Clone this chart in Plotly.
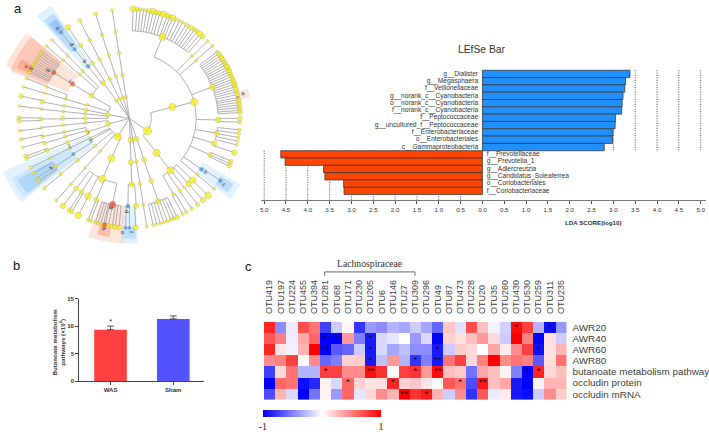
import math
import plotly.graph_objects as go

W, H = 709, 432
SANS = "Liberation Sans"
SERIF = "Liberation Serif"
GREY = "#333333"

# ---------- panel a: LEfSe bar ----------
lda_up_names = ["g__Dialister", "g__Megasphaera", "f__Veillonellaceae", "g__norank_c__Cyanobacteria",
                "o__norank_c__Cyanobacteria", "f__norank_c__Cyanobacteria", "f__Peptococcaceae",
                "g__uncultured_f__Peptococcaceae", "f__Enterobacteriaceae", "o__Enterobacteriales",
                "c__Gammaproteobacteria"]
lda_up_vals = [3.38, 3.28, 3.26, 3.22, 3.20, 3.19, 3.05, 3.04, 2.99, 2.98, 2.79]
lda_down_names = ["f__Prevotellaceae", "g__Prevotella_1", "g__Adlercreutzia", "g__Candidatus_Soleaferrea",
                  "o__Coriobacteriales", "f__Coriobacteriaceae"]
lda_down_vals = [4.62, 4.52, 3.64, 3.61, 3.18, 3.17]
lda_ticks = [-5, -4.5, -4, -3.5, -3, -2.5, -2, -1.5, -1, -0.5, 0, 0.5, 1, 1.5, 2, 2.5, 3, 3.5, 4, 4.5, 5]
lda_guides_up = [3, 3.5, 4, 4.5, 5]
lda_guides_down = [-5, -4.5, -4, -3.5, -3, -2.5, -2, -1.5, -1, -0.5]

# ---------- panel b ----------
b_groups = ["WAS", "Sham"]
b_values = [9.38, 11.35]
b_errors = [0.66, 0.55]
b_colors = ["#FF4040", "#5252FF"]
b_ticks = [0, 5, 10, 15]

# ---------- panel c ----------
otus = ["OTU419", "OTU197", "OTU224", "OTU455", "OTU394", "OTU281", "OTU68", "OTU171", "OTU230", "OTU205",
        "OTU6", "OTU146", "OTU27", "OTU309", "OTU296", "OTU49", "OTU87", "OTU473", "OTU228", "OTU20",
        "OTU35", "OTU260", "OTU430", "OTU530", "OTU259", "OTU311", "OTU235"]
traits = ["AWR20", "AWR40", "AWR60", "AWR80", "butanoate metabolism pathway", "occludin protein", "occludin mRNA"]
awr20 = [.85, -.45, -.08, .7, .55, -.75, -.2, .03, -.8, -.4, -.45, -.3, -.35, -.2, -.35, -.6, .22, -.12, .7, .25, -.05, -.18, .95, .75, -.3, -.95, -.4]
awr40 = [.65, .5, -.07, .35, .6, -1, -1, .4, -.5, -.9, -.15, -.1, 0, -.4, -.15, -1, .18, .12, .25, .4, .15, -.2, 1, .5, -1, .12, -.2]
awr60 = [.85, .1, -.05, .3, 1, -1, -.65, -.6, -.2, -.9, -.15, -.35, -.25, -.45, -.45, -.9, -.2, .2, .15, 0, .35, .08, .45, .75, -.95, .12, .3]
awr80 = [.45, .5, .75, .02, .45, -.6, -.5, .18, .2, -.9, -.25, .4, -.3, -.8, -.5, -.9, .55, .75, .15, .5, 1, .45, .55, .5, -.65, .12, .55]
butan = [-.75, .15, .55, -.3, -.3, .75, .75, .45, .45, .95, .8, .02, .75, .8, .4, .95, .25, .2, -.55, .35, .25, .05, -.5, -1, .85, .15, .25]
occ_p = [-1, .6, .55, -.95, -.85, .05, -.15, .6, .18, .1, .12, .85, .18, .22, .1, .02, .65, .55, -.7, .9, .25, .35, -.9, -1, .05, .3, .3]
occ_m = [-.7, .3, -.15, -1, -.55, .05, -.4, .6, -.1, .15, .45, .3, 1, .8, .9, .3, -.2, .45, -.8, .65, -.08, .08, -.9, -.95, -.2, .45, .2]
heat = [awr20, awr40, awr60, awr80, butan, occ_p, occ_m]
# (row, column, number of stars)
stars = [(0, 22, 1), (0, 25, 1), (1, 5, 1), (1, 6, 1), (1, 9, 1), (2, 5, 2), (2, 9, 1), (2, 15, 1), (2, 24, 1),
         (3, 9, 1), (3, 13, 1), (3, 15, 2), (4, 5, 1), (4, 9, 2), (4, 13, 1), (4, 15, 2), (4, 23, 1), (4, 24, 1),
         (5, 7, 1), (5, 11, 1), (5, 17, 1), (5, 19, 2), (6, 12, 2), (6, 14, 1)]

# ---------- panel a: cladogram ----------
# ring radius per taxonomic level; angles are compass degrees
ring = [0, 22, 44.5, 67, 89, 111]

def n(a, s, *kids, c="y"):
    return (a, s, c, list(kids))

def tips(angles, sizes, c="y"):
    return [n(a, s, c=c) for a, s in zip(angles, sizes)]

arc_a = [1.9, 3.9, 5.6, 7.3, 9, 10.8, 12.5, 14.3, 16, 18, 20.1, 21.6, 23.1, 25, 27, 28.8, 30.8, 32.5, 34.2, 36, 37.6, 39.6, 41.5]
arc_a_s = [5, 3.5, 3, 2.5, 3, 4, 5, 4, 4, 5.5, 4, 3, 5, 3, 2.5, 2.5, 3, 2.5, 3.5, 3.5, 3.5, 5, 4]
arc_b = [52.5, 53.8, 55.2, 56.5, 57.8, 59.2, 60.6, 62, 63.4, 64.8, 66.2, 67.6, 69, 70.4, 71.8, 73.2, 74.6, 76, 77.4, 79, 80.2, 81.6, 83, 84.4, 85.8, 87]
arc_b_s = [2.5, 4, 3.5, 4, 4, 3.5, 4, 4.5, 3.5, 4.5, 3.5, 3.5, 4, 4, 4.5, 3.5, 4.5, 3, 4, 4, 4, 4, 4, 3.5, 4, 3.5]
red_fam = [307.7, 306.4, 305, 303.6, 302.2, 300.8, 299.4, 298, 296.9, 295.8, 294.8]
red_fam_s = [2.5, 2.5, 2.5, 2.5, 2.5, 2.5, 2.5, 2.5, 4, 2.5, 2.5]
low_fam = [167.6, 165.7, 163.8, 161.9, 160, 158, 156.3, 154.5]
low_fam_s = [2.5, 2.5, 2.5, 2.5, 3, 3, 3, 4]
grp_a = [198, 196.5, 195, 193.6, 192.8, 191, 189, 187.4, 185.4]
grp_a_s = [3, 3, 3, 3, 4.5, 4, 4, 4, 4]

tree = [
    n(125, 7,
      n(75, 6,
        n(75.6, 6,
          n(21.8, 6, *tips(arc_a, arc_a_s)),
          n(44.7, 2.5, n(45, 2.5)),
          n(48.8, 2.5, n(48.6, 2.5)),
          n(69, 5, *tips(arc_b[:19], arc_b_s[:19]), n(arc_b[19], 2.5, c="r"), *tips(arc_b[20:], arc_b_s[20:])),
          n(91, 4.5, n(90, 4), n(92, 3)),
          n(99.7, 4, *tips([96, 98, 100, 102, 104], [3, 3, 2.5, 2.5, 2.5])),
          n(106.5, 4.5, n(108.2, 4.5)),
          n(114.6, 4, *tips([113, 114.5, 115.8], [3, 3.5, 3.5])),
          n(125.6, 3.5, n(124.7, 3.5, c="b"), c="b"),
          n(130, 2.5, n(130, 2.5)))),
      n(142, 6,
        n(142, 6,
          n(134.7, 5.5, n(134.7, 5.5)),
          n(138.2, 4.5, n(138.3, 4.5)),
          n(141.9, 2.5, n(141.9, 3.5)),
          n(145.4, 3, n(145.6, 3)),
          n(150.1, 3, n(149, 3), n(151.2, 2.5))))),
    n(160.7, 4,
      n(160.7, 4,
        n(161, 4,
          n(161, 4.5, *tips(low_fam, low_fam_s))))),
    n(171, 3,
      n(171, 3,
        n(171, 3,
          n(171, 3, n(171, 2.5))))),
    n(178, 4,
      n(178, 4.5,
        n(178, 4.5,
          n(181, 3.5, n(182, 3, c="b"), n(180, 3, c="b"), c="b"),
          n(175.6, 4.5, n(176.7, 4.5))))),
    n(212.5, 6,
      n(204, 6,
        n(204, 6,
          n(191, 5.5, *tips(grp_a[:4], grp_a_s[:4]), n(grp_a[4], 4.5, c="r"), *tips(grp_a[5:], grp_a_s[5:]), c="r"),
          n(202, 4, n(202, 3), n(200.5, 3)),
          n(207.8, 5.5, n(207.6, 5.5)),
          n(212.8, 4, n(213, 4), n(211.5, 3.5)),
          n(216.9, 4, n(216.9, 4.5)))),
      n(221.5, 2.5, n(221.5, 2.5, n(221.4, 2.5, n(221.4, 2.5)))),
      n(231, 3, n(230.8, 3, n(230.8, 3, n(230.4, 3)))),
      n(240.5, 3, n(237.3, 3, n(236.9, 3, *tips([235, 237, 240], [3, 2.5, 3])), c="b"), c="b"),
      n(243.3, 2.5, n(243.3, 2.5, n(243.3, 2.5, n(243.3, 3))))),
    n(255, 4,
      n(252, 3.5,
        n(248.6, 3.5, n(248.6, 3.5, n(249.8, 3.5), n(248.3, 3.5))),
        n(254, 2.5, n(253.6, 3, n(254.6, 2.5))),
        n(258, 3, n(258, 3, n(259, 3)))),
      n(264, 2.5, n(264, 2.5, n(264, 2.5, n(263.5, 2.5))))),
    n(280, 4,
      n(270, 3.5,
        n(270, 3.5, n(269.6, 3.5, n(270.3, 3.5), n(268.6, 3.5)))),
      n(276, 2.5, n(276, 2.5, n(276, 2.5, n(276.4, 2.5)))),
      n(281, 3.5, n(281, 3, n(280.8, 4, n(281.7, 4)))),
      n(288, 2.5, n(287, 2.5, n(286.8, 2.5, n(286.7, 2.5)), n(291, 2.5, n(291.4, 2.5)))),
      n(301, 4,
        n(301.4, 4, n(301.4, 4, *tips(red_fam[:8], red_fam_s[:8]), n(red_fam[8], 4, c="r"), *tips(red_fam[9:], red_fam_s[9:]), c="r"), c="r"),
        n(311.8, 2.5, n(311.6, 2.5, n(311.4, 2.5))),
        n(315.7, 2.5, n(315.7, 2.5, n(315.7, 2.5))))),
    n(323.6, 3,
      n(324, 4,
        n(321.8, 3.5, n(321.8, 3, n(321.8, 3, c="b"), c="b"), c="b"),
        n(326.5, 3.5, n(326.5, 3.5, n(326.3, 4.5))))),
    n(333.4, 3, n(333.4, 3, n(333.4, 3, n(333.3, 3, n(333.3, 3.5))))),
    n(343, 3, n(342.5, 3, n(342, 3, n(342, 3, n(342.2, 3.5))))),
    n(351.6, 2.5, n(351, 3, n(351, 3, n(351, 3, n(351, 3))))),
]

# wedges: (angle from, angle to, inner radius, outer radius, colour)
LB, MB, DB = "rgba(150,205,250,0.28)", "rgba(110,180,245,0.32)", "rgba(70,150,240,0.30)"
LR, MR, DR = "rgba(250,160,130,0.28)", "rgba(248,140,105,0.32)", "rgba(245,120,85,0.35)"
wedges = [
    (293, 310, 67, 135, LR), (292, 310, 89, 129, MR), (294.5, 299, 111, 124, DR),
    (318, 325.5, 67, 139, LB), (319, 324.5, 89, 131, MB), (319.8, 323.8, 111, 125, DB),
    (232, 247, 44.5, 138, LB), (233, 243, 67, 133, LB), (233.5, 241, 89, 128, MB),
    (183, 199, 89, 127, LR), (189.5, 195.5, 111, 122, DR),
    (176, 184, 89, 127, LB), (177, 183, 111, 122, MB),
    (121, 129, 86, 130, LB), (122.5, 127.5, 109, 124, MB),
    (76, 80, 111, 123, LR),
]
# clade letters: letter, angle, radius
clade_letters = [("a", 77.3, 117), ("b", 125.6, 94), ("c", 125, 116), ("d", 181.5, 94), ("e", 183, 116),
                 ("f", 179, 116), ("g", 191, 93), ("h", 192.8, 115.7), ("i", 249.8, 43), ("j", 243.8, 65.7),
                 ("k", 237, 93.6), ("l", 301.9, 70.7), ("m", 300.4, 95.5), ("n", 296.9, 116.6),
                 ("o", 321.5, 117), ("p", 321.6, 95), ("q", 321.5, 73)]

NODE = {"y": "#FBF200", "b": "#2F8FDE", "r": "#EE4020"}
SIZE_SCALE = 1.2

def pol(a, r):
    t = math.radians(a)
    return r * math.sin(t), -r * math.cos(t)

def sector(a0, a1, r0, r1):
    m = 12
    aa = [a0 + (a1 - a0) * i / m for i in range(m + 1)]
    pts = [pol(a, r1) for a in aa] + [pol(a, r0) for a in reversed(aa)]
    pts.append(pts[0])
    return [p[0] for p in pts], [p[1] for p in pts]

seg_x, seg_y, node_x, node_y, node_s, node_c = [], [], [], [], [], []

def walk(node, level, parent_r):
    a, s, c, kids = node
    r = ring[level]
    x0, y0 = pol(a, parent_r)
    x1, y1 = pol(a, r)
    seg_x.extend([x0, x1, None])
    seg_y.extend([y0, y1, None])
    if kids:
        angs = [k[0] for k in kids] + [a]
        lo, hi = min(angs), max(angs)
        steps = max(2, int((hi - lo) / 2) + 1)
        for i in range(steps + 1):
            px, py = pol(lo + (hi - lo) * i / steps, r)
            seg_x.append(px)
            seg_y.append(py)
        seg_x.append(None)
        seg_y.append(None)
    for k in kids:
        walk(k, level + 1, r)
    node_x.append(x1)
    node_y.append(y1)
    node_s.append(s * SIZE_SCALE)
    node_c.append(NODE[c])

for top in tree:
    walk(top, 1, 0)

def px_x(x):
    return x / W

def px_y(y):
    return 1 - y / H

def dom_x(a, b):
    return [a / W, b / W]

def dom_y(top, bottom):
    return [1 - bottom / H, 1 - top / H]

fig = go.Figure()

# cladogram
for a0, a1, r0, r1, col in wedges:
    wx, wy = sector(a0, a1, r0, r1)
    fig.add_trace(go.Scatter(x=wx, y=wy, mode="none", fill="toself", fillcolor=col,
                             hoverinfo="skip", xaxis="x4", yaxis="y4"))
fig.add_trace(go.Scatter(x=seg_x, y=seg_y, mode="lines", line=dict(color="#A8A8A8", width=0.9),
                         hoverinfo="skip", xaxis="x4", yaxis="y4"))
fig.add_trace(go.Scatter(x=node_x, y=node_y, mode="markers",
                         marker=dict(size=node_s, color=node_c, line=dict(color="#A0A090", width=0.5)),
                         hoverinfo="skip", xaxis="x4", yaxis="y4"))

annotations = []
for letter, a, r in clade_letters:
    lx, ly = pol(a, r)
    annotations.append(dict(x=lx, y=ly, xref="x4", yref="y4", text=letter, showarrow=False, xanchor="center", yanchor="middle",
                            textangle=a - 90, font=dict(family=SANS, size=5.5, color="#222222")))

# LEfSe bars
up_rows = list(range(len(lda_up_vals)))
down_rows = [len(lda_up_vals) + i for i in range(len(lda_down_vals))]
fig.add_trace(go.Bar(x=lda_up_vals, y=up_rows, orientation="h", width=1, marker=dict(color="#1E90FF", line=dict(color="#3A3A3A", width=0.8)),
                     xaxis="x", yaxis="y", hoverinfo="skip"))
fig.add_trace(go.Bar(x=[-v for v in lda_down_vals], y=down_rows, orientation="h", width=1, marker=dict(color="#FF4500", line=dict(color="#3A3A3A", width=0.8)),
                     xaxis="x", yaxis="y", hoverinfo="skip"))
LBL = dict(family=SANS, size=6.6, color=GREY)
fig.add_trace(go.Scatter(x=[-0.1] * len(up_rows), y=up_rows, mode="text", text=lda_up_names, textposition="middle left",
                         textfont=LBL, xaxis="x", yaxis="y", hoverinfo="skip"))
fig.add_trace(go.Scatter(x=[0.1] * len(down_rows), y=down_rows, mode="text", text=lda_down_names, textposition="middle right",
                         textfont=LBL, xaxis="x", yaxis="y", hoverinfo="skip"))
shapes = []
split = len(lda_up_vals) - 0.5
for g in lda_guides_up:
    shapes.append(dict(type="line", xref="x", yref="y", x0=g, x1=g, y0=-0.5, y1=split, layer="below",
                       line=dict(color="#222222", width=0.8, dash="1px,1.4px")))
for g in lda_guides_down:
    shapes.append(dict(type="line", xref="x", yref="y", x0=g, x1=g, y0=split, y1=17.27, layer="below",
                       line=dict(color="#222222", width=0.8, dash="1px,1.4px")))

# Panel b
fig.add_trace(go.Bar(x=b_groups, y=b_values, marker=dict(color=b_colors, line=dict(width=0)), width=0.52,
                     error_y=dict(type="data", array=b_errors, symmetric=False, arrayminus=[0, 0], color="#333333", thickness=0.8, width=3.5),
                     xaxis="x2", yaxis="y2", hoverinfo="skip"))
fig.add_trace(go.Scatter(x=[b_groups[0]], y=[10.75], mode="text", text=["*"], textposition="middle center",
                         textfont=dict(family=SANS, size=7, color="#222222"), xaxis="x2", yaxis="y2", hoverinfo="skip"))

# Heatmap
fig.add_trace(go.Heatmap(z=heat, x=otus, y=traits, xaxis="x3", yaxis="y3", zmin=-1, zmax=1, xgap=0, ygap=0,
                         colorscale=[[0, "#0000FF"], [0.5, "#FFFFFF"], [1, "#FF0000"]], hoverinfo="skip",
                         colorbar=dict(orientation="h", lenmode="pixels", len=118, thicknessmode="pixels", thickness=7,
                                       x=263 / W, xanchor="left", y=px_y(412.5), yanchor="top", outlinewidth=0,
                                       tickvals=[-1, 1], ticktext=["-1", "1"], ticks="", ypad=0, xpad=0,
                                       tickfont=dict(family=SERIF, size=10, color="#222222"))))
star_x, star_y = [], []
for row, col, count in stars:
    star_x.append(otus[col])
    star_y.append(traits[row])
fig.add_trace(go.Scatter(x=star_x, y=star_y, mode="text", text=["**" if s[2] == 2 else "*" for s in stars],
                         textposition="middle center", textfont=dict(family=SANS, size=9.5, color="#111111"),
                         xaxis="x3", yaxis="y3", hoverinfo="skip"))
shapes.append(dict(type="path", xref="paper", yref="paper",
                   path=f"M {px_x(325)} {px_y(276.7)} L {px_x(325)} {px_y(272.7)} L {px_x(415.7)} {px_y(272.7)} L {px_x(415.7)} {px_y(276.7)}",
                   line=dict(color="#444444", width=0.8)))

def note(text, x, y, size, family=SANS, color=GREY, **kw):
    annotations.append(dict(x=px_x(x), y=px_y(y), xref="paper", yref="paper", text=text, showarrow=False,
                            xanchor="center", yanchor="middle",
                            font=dict(family=family, size=size, color=color), **kw))

note("a", 17, 6, 13, color="#111111")
note("b", 16, 266, 13, color="#111111")
note("c", 249, 267, 13, color="#111111")
note("LEfSe Bar", 483.5, 47, 10.3)
note("<b>LDA SCORE(log10)</b>", 595, 222.5, 6.2)
note("<b>Butanoate metabolism<br>pathways (×10<sup>6</sup>)</b>", 57.5, 344, 6.2, textangle=-90)
note("Lachnospiraceae", 370, 264.5, 9.7, family=SERIF)

fig.update_layout(
    width=W, height=H, autosize=False, margin=dict(l=0, r=0, t=0, b=0), paper_bgcolor="white", plot_bgcolor="rgba(0,0,0,0)",
    showlegend=False, barmode="overlay", shapes=shapes, annotations=annotations,
    xaxis=dict(domain=dom_x(260.7, 707.7), range=[-5.082, 5.115], tickvals=lda_ticks, ticktext=[f"{abs(t):.1f}" for t in lda_ticks],
               showgrid=False, zeroline=False, showline=True, linecolor="#777777", linewidth=1, ticks="outside", ticklen=3,
               tickcolor="#555555", tickwidth=0.7, tickfont=dict(family=SANS, size=6.2, color=GREY), anchor="y"),
    yaxis=dict(domain=dom_y(66, 200), range=[17.27, -0.8], visible=False, anchor="x"),
    xaxis2=dict(domain=dom_x(78, 204), range=[-0.508, 1.492], showgrid=False, zeroline=False, showline=True, linecolor="#444444",
                linewidth=1, ticks="outside", ticklen=2.5, tickcolor="#444444", tickfont=dict(family=SANS, size=6, color=GREY, weight="bold"),
                anchor="y2", type="category"),
    yaxis2=dict(domain=dom_y(300, 383.7), range=[0, 15], tickvals=b_ticks, showgrid=False, zeroline=False, showline=True, linecolor="#444444",
                linewidth=1, ticks="outside", ticklen=2.5, tickcolor="#444444", tickfont=dict(family=SANS, size=6, color=GREY, weight="bold"),
                anchor="x2"),
    xaxis3=dict(domain=dom_x(264, 568), side="top", tickangle=-90, showgrid=False, zeroline=False, showline=False, ticks="outside",
                ticklen=5, tickcolor="rgba(0,0,0,0)", tickfont=dict(family=SANS, size=9, color="#404040"), anchor="y3", type="category",
                tickmode="array", tickvals=otus, ticktext=otus),
    yaxis3=dict(domain=dom_y(323.3, 402.3), side="right", autorange="reversed", showgrid=False, zeroline=False, showline=False, ticks="outside",
                ticklen=3, tickcolor="rgba(0,0,0,0)", tickfont=dict(family=SANS, size=9.9, color="#404040"), anchor="x3", type="category",
                tickmode="array", tickvals=traits, ticktext=traits),
    xaxis4=dict(domain=dom_x(0, 252), range=[-129, 123], visible=False, anchor="y4"),
    yaxis4=dict(domain=dom_y(0, 250), range=[133, -117], visible=False, anchor="x4"),
)
fig.write_html("out.html", config=dict(displayModeBar=False),
               post_script="document.body.style.margin='0';document.documentElement.style.overflow='hidden';")
